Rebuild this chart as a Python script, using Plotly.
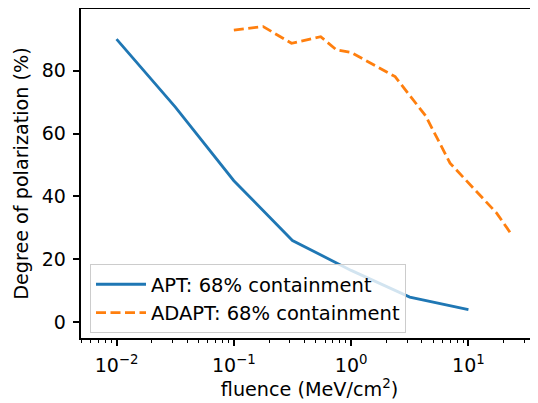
import plotly.graph_objects as go

# Data
apt_fluence = [0.01, 0.0316, 0.1, 0.316, 1.0, 3.16, 10.0]
apt_polarization = [90.0, 68.5, 45.0, 26.0, 16.5, 8.0, 4.0]

adapt_fluence = [0.1, 0.178, 0.31, 0.55, 0.75, 1.0, 2.37, 4.32, 6.97, 17.4, 23.4]
adapt_polarization = [92.9, 94.0, 88.7, 90.8, 86.6, 85.8, 78.1, 65.6, 50.6, 34.7, 27.8]

x_tickvals = [0.01, 0.1, 1, 10]
x_ticktext = ["10<sup>−2</sup>", "10<sup>−1</sup>", "10<sup>0</sup>", "10<sup>1</sup>"]
y_tickvals = [0, 20, 40, 60, 80]

minor_vals = [k * 10.0 ** e for e in range(-3, 2) for k in range(2, 10)]

FONT = "DejaVu Sans"
FS = 19.2

fig = go.Figure()
fig.add_trace(go.Scatter(
    x=apt_fluence, y=apt_polarization, mode="lines",
    name="APT: 68% containment",
    line=dict(color="#1f77b4", width=2.8),
))
fig.add_trace(go.Scatter(
    x=adapt_fluence, y=adapt_polarization, mode="lines",
    name="ADAPT: 68% containment",
    line=dict(color="#ff7f0e", width=2.8, dash="10px,4.5px"),
))

# page body has an 8px margin: size/margins compensate so the axes land where the reference has them
fig.update_layout(
    width=530, height=395,
    margin=dict(l=73, r=0, t=1, b=65),
    paper_bgcolor="white", plot_bgcolor="white",
    font=dict(family=FONT, size=FS, color="black"),
    showlegend=True,
    legend=dict(
        x=0.0197, y=0.015, xanchor="left", yanchor="bottom",
        bgcolor="rgba(255,255,255,0.8)", bordercolor="#cccccc", borderwidth=1,
        font=dict(family=FONT, size=19.5, color="black"),
        tracegroupgap=0, itemwidth=50,
    ),
)
fig.update_xaxes(
    type="log", range=[-2.303, 1.593], automargin=False,
    tickmode="array", tickvals=x_tickvals, ticktext=x_ticktext,
    ticks="outside", ticklen=6.5, tickwidth=1.5, tickcolor="black",
    ticklabelstandoff=3,
    showline=True, linecolor="black", linewidth=1.5, mirror=True,
    showgrid=False, zeroline=False,
    minor=dict(tickmode="array", tickvals=minor_vals, ticks="outside",
               ticklen=3.7, tickwidth=1.2, tickcolor="black", showgrid=False),
    title=dict(text="fluence (MeV/cm<sup>2</sup>)", font=dict(family=FONT, size=FS), standoff=8),
    tickfont=dict(family=FONT, size=19, color="black"),
)
fig.update_yaxes(
    range=[-5.0, 99.6], automargin=False,
    tickmode="array", tickvals=y_tickvals,
    ticks="outside", ticklen=6.5, tickwidth=1.5, tickcolor="black",
    ticklabelstandoff=3,
    showline=True, linecolor="black", linewidth=1.5, mirror=False,
    showgrid=False, zeroline=False,
    title=dict(text="Degree of polarization (%)", font=dict(family=FONT, size=FS), standoff=8),
    tickfont=dict(family=FONT, size=19, color="black"),
)

fig.write_html("out.html")
